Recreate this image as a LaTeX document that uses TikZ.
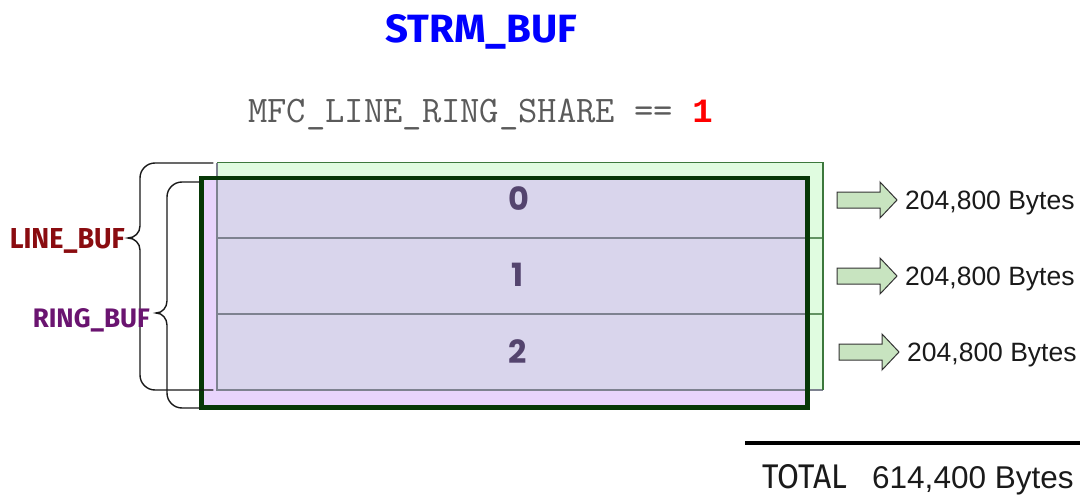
\documentclass[tikz,border=0pt]{standalone}
\usepackage{fontspec}
\setmainfont{Liberation Sans}
\newfontfamily\labfont{Fira Sans}
\newfontfamily\numfont{Poppins}
\newfontfamily\monobold{Liberation Mono}

\definecolor{lineGreenFill}{HTML}{E0FCE0}
\definecolor{lineGreenEdge}{HTML}{3C783C}
\definecolor{ringFill}{HTML}{E8D4FC}
\definecolor{shareFill}{HTML}{D9D5EC}
\definecolor{ringEdge}{HTML}{073807}
\definecolor{slotLine}{HTML}{7E8290}
\definecolor{slotNum}{HTML}{54446E}
\definecolor{lineRed}{HTML}{8A0C10}
\definecolor{ringPurple}{HTML}{6A1470}
\definecolor{arrowFill}{HTML}{C8E4C0}
\definecolor{monoGray}{HTML}{5A5A5A}
\definecolor{textDark}{HTML}{1A1A1A}

\tikzset{
  brace/.style={draw=black!90, line width=1.4pt, line cap=round},
  slot/.style={line width=2pt, draw=slotLine},
  slotlabel/.style={font=\numfont\bfseries\fontsize{32}{34}\selectfont, text=slotNum, inner sep=0pt},
  bytes/.style={font=\fontsize{26.5}{30}\selectfont, text=textDark, anchor=base west, inner sep=0pt},
  fatarrow/.pic={
    \draw[fill=arrowFill, draw=black!80, line width=1pt, line join=miter]
      (-30,-8) -- (13,-8) -- (13,-18) -- (30,0) -- (13,18) -- (13,8) -- (-30,8) -- cycle;
  }
}

\begin{document}
\begin{tikzpicture}[x=1pt, y=-1pt]
\useasboundingbox (0,0) rectangle (1080,495);

% title and switch
\node[anchor=base west, inner sep=0pt, text=blue] (title) at (385,43)
  {\resizebox{192pt}{28pt}{\labfont\bfseries STRM\_BUF}};
\node[anchor=base west, inner sep=0pt, text=monoGray,
      font=\ttfamily\fontsize{37.5}{40}\selectfont] (share) at (248,123)
  {MFC\_LINE\_RING\_SHARE == \textcolor{red}{\monobold\bfseries\fontsize{34}{40}\selectfont 1}};

% LINE_BUF area (green), RING_BUF area (purple), shared part
\fill[lineGreenFill] (217,162.5) rectangle (823,390);
\fill[ringFill] (201.5,178) rectangle (807.5,407.5);
\fill[shareFill] (217,178) rectangle (807.5,390);

% slot separators
\draw[slot] (217,238) -- (807,238);
\draw[slot] (217,314) -- (807,314);
\draw[line width=2pt, draw=lineGreenEdge!80] (807,238) -- (823,238);
\draw[line width=2pt, draw=lineGreenEdge!80] (807,314) -- (823,314);

% LINE_BUF outline
\draw[slot] (217,162.5) -- (217,390) -- (823,390);
\draw[line width=1.4pt, draw=lineGreenEdge] (217,162.5) -- (823,162.5) -- (823,390);

% RING_BUF outline
\draw[line width=4.5pt, draw=ringEdge] (201.5,178) rectangle (807.5,407.5);

% slot numbers
\node[slotlabel] (s0) at (519,199) {0};
\node[slotlabel] (s1) at (518,275) {1};
\node[slotlabel] (s2) at (518,352) {2};

% braces
\draw[brace] (213,163) -- (155,163) to[out=180,in=90] (140,178) -- (140,226)
  to[out=-90,in=0] (128,238) to[out=0,in=90] (140,250) -- (140,375)
  to[out=-90,in=180] (155,390) -- (213,390);
\draw[brace] (200,182) -- (182,182) to[out=180,in=90] (167,197) -- (167,301)
  to[out=-90,in=0] (156,313) to[out=0,in=90] (167,325) -- (167,393)
  to[out=-90,in=180] (182,408) -- (200,408);

\node[anchor=base east, inner sep=0pt, text=lineRed] (linebuf) at (125,248)
  {\resizebox{115pt}{20pt}{\labfont\bfseries LINE\_BUF}};
\node[anchor=base east, inner sep=0pt, text=ringPurple] (ringbuf) at (150,327)
  {\resizebox{117pt}{19pt}{\labfont\bfseries RING\_BUF}};

% per-slot sizes
\pic at (867,200) {fatarrow};
\pic at (867,276) {fatarrow};
\pic at (869,352) {fatarrow};
\node[bytes] (b0) at (905,209) {204,800 Bytes};
\node[bytes] (b1) at (905,285) {204,800 Bytes};
\node[bytes] (b2) at (907,361) {204,800 Bytes};

% total
\draw[line width=4pt, black] (745,443) -- (1080,443);
\node[anchor=base west, inner sep=0pt, text=textDark] (totlabel) at (762,488)
  {\resizebox{85pt}{24pt}{\labfont TOTAL}};
\node[anchor=base west, inner sep=0pt, text=textDark, font=\fontsize{31.5}{34}\selectfont]
  (total) at (872,488) {614,400 Bytes};
\end{tikzpicture}
\end{document}
